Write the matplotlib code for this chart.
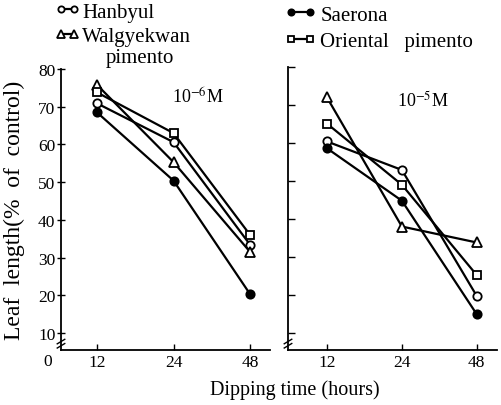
import matplotlib
matplotlib.use("Agg")
import matplotlib.pyplot as plt

plt.rcParams['font.family'] = ['Liberation Serif', 'DejaVu Serif']
plt.rcParams['mathtext.fontset'] = 'stix'

# ---- data ----
hours = ['12', '24', '48']
yticks = [10, 20, 30, 40, 50, 60, 70, 80]

# 10^-6 M
hanbyul_6 = [70.9, 60.6, 33.4]
saerona_6 = [68.5, 50.4, 20.3]
walgyekwan_6 = [75.8, 55.3, 31.5]
oriental_6 = [73.8, 63.0, 36.0]

# 10^-5 M
hanbyul_5 = [60.4, 52.9, 19.7]
saerona_5 = [58.6, 44.8, 14.9]
walgyekwan_5 = [72.0, 38.0, 33.8]
oriental_5 = [65.1, 49.0, 25.2]

W, H = 502, 406
fig = plt.figure(figsize=(W / 100, H / 100), dpi=100)

def px_axes(x0, x1, y_top, y_bot):
    return fig.add_axes([x0 / W, 1 - y_bot / H, (x1 - x0) / W, (y_bot - y_top) / H])

ax1 = px_axes(61, 270, 70, 351)
ax2 = px_axes(288, 497, 68, 351)

styles = dict(color='black', lw=1.6)
series = [
    ('Hanbyul', 'o', 'white', 6.0),
    ('Saerona', 'o', 'black', 6.0),
    ('Walgyekwan', '^', 'white', 7.0),
    ('Oriental   pimento', 's', 'white', 6.0),
]
data6 = [hanbyul_6, saerona_6, walgyekwan_6, oriental_6]
data5 = [hanbyul_5, saerona_5, walgyekwan_5, oriental_5]

x = list(range(len(hours)))
handles = {}
for ax, dat in ((ax1, data6), (ax2, data5)):
    for (name, mk, fc, ms), vals in zip(series, dat):
        ln, = ax.plot(x, vals, marker=mk, mfc=fc, mec='black', ms=ms, mew=1.3,
                      zorder=3, **styles)
        handles[name] = ln

for ax, xl in ((ax1, (-0.47, 2.26)), (ax2, (-0.52, 2.27))):
    ax.set_xlim(*xl)
    ax.set_ylim(5.5, 80)
    ax.set_xticks(x)
    ax.set_xticklabels(hours, fontsize=12.5)
    ax.set_yticks(yticks)
    ax.spines['top'].set_visible(False)
    ax.spines['right'].set_visible(False)
    ax.spines['left'].set_linewidth(1.3)
    ax.spines['bottom'].set_linewidth(1.3)
    ax.tick_params(axis='x', direction='in', length=4, width=1.0, pad=3)
    ax.patch.set_alpha(0)
    # axis break marks
    for yb in (0.030, 0.015):
        ax.plot([-0.018, 0.018], [yb - 0.008, yb + 0.008], color='black',
                lw=1.0, transform=ax.transAxes, clip_on=False)

ax1.set_yticklabels([str(v) for v in yticks], fontsize=12.5)
ax1.tick_params(axis='y', direction='inout', length=6, width=1.0, pad=1)
ax2.tick_params(axis='y', direction='in', length=5, width=1.0, labelleft=False)

ax1.text(-0.045, -0.012, '0', transform=ax1.transAxes, ha='right', va='top',
         fontsize=12.5)

ax1.set_ylabel('Leaf  length(%  of  control)', fontsize=17)
ax1.yaxis.set_label_coords(-0.17, 0.5)

ax1.text(0.53, 0.90, r'10$^{-6}$M', transform=ax1.transAxes, fontsize=13,
         ha='left', va='center')
ax2.text(0.52, 0.883, r'10$^{-5}$M', transform=ax2.transAxes, fontsize=13,
         ha='left', va='center')

fig.text(295 / W, 1 - 390 / H, 'Dipping time (hours)', ha='center', va='center',
         fontsize=14.5)

leg_kw = dict(frameon=False, borderpad=0, borderaxespad=0, fontsize=15,
              numpoints=2, markerscale=0.75, loc='upper left')
leg1 = fig.legend([handles['Hanbyul'], handles['Walgyekwan']],
                  ['Hanbyul', 'Walgyekwan'], bbox_to_anchor=(55 / W, 1 - 3 / H),
                  labelspacing=0.25, handlelength=1.2, handletextpad=0.1,
                  **leg_kw)
leg2 = fig.legend([handles['Saerona'], handles['Oriental   pimento']],
                  ['Saerona', 'Oriental   pimento'],
                  bbox_to_anchor=(285 / W, 1 - 6 / H),
                  labelspacing=0.35, handlelength=1.5, handletextpad=0.2,
                  **leg_kw)
fig.text(106 / W, 1 - 59 / H, 'pimento', ha='left', va='center', fontsize=15)

fig.savefig('out.png', dpi=100)
